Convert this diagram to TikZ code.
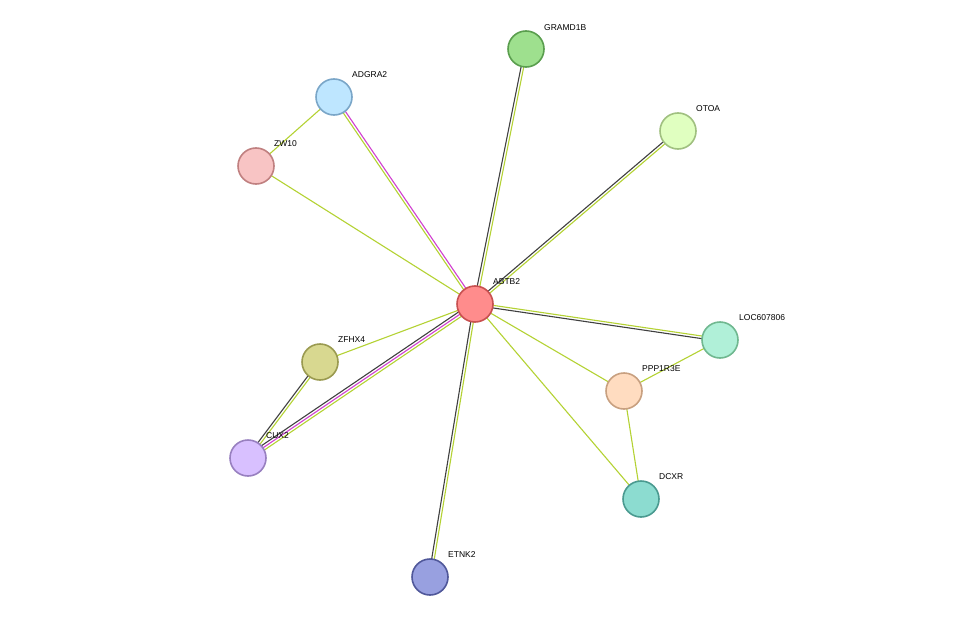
\documentclass[tikz,border=0pt]{standalone}
\usepackage{fontspec}
\setmainfont{Liberation Sans}
\usetikzlibrary{calc}
\definecolor{yg}{HTML}{B4D233}
\definecolor{dk}{HTML}{404040}
\definecolor{mg}{HTML}{D040D0}
\tikzset{
 prot/.style={circle,minimum size=36pt,inner sep=0pt,line width=1.6pt},
 lab/.style={font=\fontsize{8.5pt}{10pt}\selectfont,anchor=west,inner sep=0pt},
 ed/.style={line width=1.1pt}
}
\newcommand{\pairline}[4]{%
 \draw[ed,#3] ($(#1)!1.3pt!90:(#2)$) -- ($(#2)!1.3pt!-90:(#1)$);
 \draw[ed,#4] ($(#1)!-1.3pt!90:(#2)$) -- ($(#2)!-1.3pt!-90:(#1)$);}
\begin{document}
\begin{tikzpicture}[x=1pt,y=-1pt]
\path[fill=white] (0,0) rectangle (976,623);
\useasboundingbox (0,0) rectangle (976,623);
\coordinate (ABTB2) at (475,304);
\coordinate (GRAMD1B) at (526,49);
\coordinate (ADGRA2) at (334,97);
\coordinate (ZW10) at (256,166);
\coordinate (OTOA) at (678,131);
\coordinate (LOC) at (720,340);
\coordinate (PPP) at (624,391);
\coordinate (DCXR) at (641,499);
\coordinate (ZFHX4) at (320,362);
\coordinate (CUX2) at (248,458);
\coordinate (ETNK2) at (430,577);
% edges
\pairline{ABTB2}{GRAMD1B}{dk}{yg}
\pairline{ABTB2}{ADGRA2}{yg}{mg}
\draw[ed,yg] (ADGRA2) -- (ZW10);
\draw[ed,yg] (ZW10) -- (ABTB2);
\pairline{ABTB2}{OTOA}{dk}{yg}
\pairline{ABTB2}{LOC}{yg}{dk}
\draw[ed,yg] (ABTB2) -- (PPP);
\draw[ed,yg] (PPP) -- (LOC);
\draw[ed,yg] (PPP) -- (DCXR);
\draw[ed,yg] (ABTB2) -- (DCXR);
\draw[ed,yg] (ABTB2) -- (ZFHX4);
\pairline{ZFHX4}{CUX2}{yg}{dk}
\draw[ed,yg] ($(ABTB2)!2.6pt!90:(CUX2)$) -- ($(CUX2)!2.6pt!-90:(ABTB2)$);
\draw[ed,mg] (ABTB2) -- (CUX2);
\draw[ed,dk] ($(ABTB2)!-2.6pt!90:(CUX2)$) -- ($(CUX2)!-2.6pt!-90:(ABTB2)$);
\pairline{ABTB2}{ETNK2}{yg}{dk}
% nodes
\foreach \c/\f/\d in {ABTB2/FF8C8C/C85050, GRAMD1B/9EE08E/5A9E4E, ADGRA2/BEE6FF/7AA6C8, ZW10/F8C4C4/C08080, OTOA/E0FFC0/A0C080, LOC/B0F0D8/70B890, PPP/FFDCC0/C8A080, DCXR/8CDCD0/4A9A90, ZFHX4/D8D890/9A9A50, CUX2/D8C0FF/9880C0, ETNK2/98A0E0/50589A}{
 \definecolor{ff}{HTML}{\f}\definecolor{dd}{HTML}{\d}
 \node[prot,fill=ff,draw=dd] (n\c) at (\c) {};
}
% labels
\node[lab] (lABTB2) at ($(ABTB2)+(18,-22)$) {ABTB2};
\node[lab] (lGRAMD1B) at ($(GRAMD1B)+(18,-21)$) {GRAMD1B};
\node[lab] (lADGRA2) at ($(ADGRA2)+(18,-22)$) {ADGRA2};
\node[lab] (lZW10) at ($(ZW10)+(18,-22)$) {ZW10};
\node[lab] (lOTOA) at ($(OTOA)+(18,-22)$) {OTOA};
\node[lab] (lLOC) at ($(LOC)+(19,-22)$) {LOC607806};
\node[lab] (lPPP) at ($(PPP)+(18,-22)$) {PPP1R3E};
\node[lab] (lDCXR) at ($(DCXR)+(18,-22)$) {DCXR};
\node[lab] (lZFHX4) at ($(ZFHX4)+(18,-22)$) {ZFHX4};
\node[lab] (lCUX2) at ($(CUX2)+(18,-22)$) {CUX2};
\node[lab] (lETNK2) at ($(ETNK2)+(18,-22)$) {ETNK2};
\end{tikzpicture}
\end{document}
